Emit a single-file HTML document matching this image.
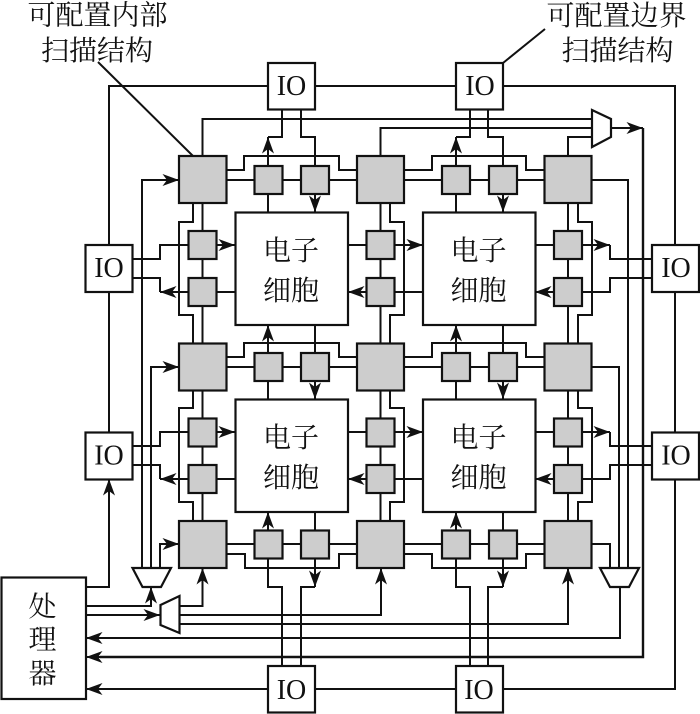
<!DOCTYPE html>
<html><head><meta charset="utf-8"><style>
html,body{margin:0;padding:0;background:#fff;width:700px;height:714px;overflow:hidden}
svg{display:block}
.c{font-family:"Liberation Serif","Noto Serif CJK SC",serif;font-size:28px;fill:#111;text-anchor:middle}
.io{font-family:"Liberation Serif",serif;font-size:28px;fill:#111;text-anchor:middle}
.w{fill:none;stroke:#111;stroke-width:2}
.g{fill:#cdcdcd;stroke:#111;stroke-width:2.2}
.b{fill:#fff;stroke:#111;stroke-width:2.2}
</style></head><body>
<svg width="700" height="714" viewBox="0 0 700 714" xmlns="http://www.w3.org/2000/svg">
<defs>
<marker id="a" markerUnits="userSpaceOnUse" markerWidth="20" markerHeight="14" refX="17" refY="7" orient="auto"><path d="M17,7 L0.500,1 L5,7 L0.500,13 Z" fill="#111"/></marker>
</defs>
<path class="w" d="M98,62 L193,156 M503,63 L545,29"/>
<!-- outer loop -->
<path class="w" d="M109,245 V86 H675 V689 H86"/>
<path class="w" d="M86,587 H109 V479" marker-end="url(#a)"/>
<path class="w" d="M109,292 V432" />
<path class="w" d="M315,689 H86" marker-end="url(#a)"/>
<!-- top scan chains -->
<path class="w" d="M202.500,156 V119 H592 M380.500,156 V128 H592 M568,156 V137 H592"/>
<path class="w" d="M611,128 H643" marker-end="url(#a)"/>
<path d="M643,128 V657 H100" fill="none" stroke="#111" stroke-width="2.4"/>
<path class="w" d="M100,657 H86" marker-end="url(#a)"/>
<path class="w" d="M620,587 V638 H100"/><path class="w" d="M100,638 H86" marker-end="url(#a)"/>
<path class="w" d="M592,180 H628 V568 M592,367 H619 V568 M592,544 H610 V568"/>
<!-- left scan -->
<path class="w" d="M142,568 V180 H179" marker-end="url(#a)"/>
<path class="w" d="M151,568 V367 H179" marker-end="url(#a)"/>
<path class="w" d="M160,568 V544 H179" marker-end="url(#a)"/>
<path class="w" d="M86,606 H151 V587" marker-end="url(#a)"/>
<path class="w" d="M86,615 H160" marker-end="url(#a)"/>
<path class="w" d="M180,606 H202.500 V568" marker-end="url(#a)"/>
<path class="w" d="M180,615 H381 V568" marker-end="url(#a)"/>
<path class="w" d="M180,624 H568 V568" marker-end="url(#a)"/>
<!-- horizontal rows -->
<path class="w" d="M227,180 H357 M404,180 H544 M227,367 H357 M404,367 H544 M227,544 H357 M404,544 H544"/>
<path class="w" d="M227,170 H244 V156 H339 V170 H357 M404,170 H432 V156 H526 V170 H544"/>
<path class="w" d="M227,357 H244 V343 H339 V357 H357 M404,357 H432 V343 H526 V357 H544"/>
<path class="w" d="M227,554 H245 V568 H339 V554 H357 M404,554 H432 V568 H526 V554 H544"/>
<!-- vertical cols -->
<path class="w" d="M202.500,203 V343 M202.500,390 V521 M380.500,203 V343 M380.500,390 V521 M568,203 V343 M568,390 V521"/>
<path class="w" d="M193,203 V222 H179 V315 H193 V343 M193,390 V408 H179 V502 H193 V521"/>
<path class="w" d="M390,203 V222 H404 V315 H390 V343 M390,390 V408 H404 V502 H390 V521"/>
<path class="w" d="M578,203 V222 H592 V315 H578 V343 M578,390 V408 H592 V502 H578 V521"/>
<!-- top IO verticals -->
<path class="w" d="M282,109 V137 H268"/><path class="w" d="M268,166 V137" marker-end="url(#a)"/>
<path class="w" d="M301,109 V137 H315 V166"/>
<path class="w" d="M470,109 V137 H456"/><path class="w" d="M456,166 V137" marker-end="url(#a)"/>
<path class="w" d="M488,109 V137 H503 V166"/>
<path class="w" d="M268,194 V212 M456,194 V212"/>
<path class="w" d="M315,194 V212" marker-end="url(#a)"/><path class="w" d="M503,194 V212" marker-end="url(#a)"/>
<!-- middle -->
<path class="w" d="M268,353 V325" marker-end="url(#a)"/><path class="w" d="M456,353 V325" marker-end="url(#a)"/>
<path class="w" d="M315,325 V353 M503,325 V353 M268,381 V399 M456,381 V399"/>
<path class="w" d="M315,381 V399" marker-end="url(#a)"/><path class="w" d="M503,381 V399" marker-end="url(#a)"/>
<!-- bottom -->
<path class="w" d="M268,530 V512" marker-end="url(#a)"/><path class="w" d="M456,530 V512" marker-end="url(#a)"/>
<path class="w" d="M315,512 V530 M503,512 V530"/>
<path class="w" d="M268,559 V587 H282 V666 M456,559 V587 H470 V666"/>
<path class="w" d="M301,666 V587 H315"/><path class="w" d="M488,666 V587 H503"/>
<path class="w" d="M315,559 V587" marker-end="url(#a)"/><path class="w" d="M503,559 V587" marker-end="url(#a)"/>
<!-- side wires row 1 -->
<path class="w" d="M133,259 H160 V245 H188"/><path class="w" d="M217,245 H235" marker-end="url(#a)"/>
<path class="w" d="M133,278 H160 V292"/><path class="w" d="M188,292 H160" marker-end="url(#a)"/><path class="w" d="M217,292 H235"/>
<path class="w" d="M348,245 H366 M423,292 H395"/><path class="w" d="M395,245 H423" marker-end="url(#a)"/><path class="w" d="M366,292 H348" marker-end="url(#a)"/>
<path class="w" d="M535,245 H554"/><path class="w" d="M582,245 H610" marker-end="url(#a)"/><path class="w" d="M610,245 V259 H652 M652,278 H610 V292 H582"/><path class="w" d="M554,292 H535" marker-end="url(#a)"/>
<!-- side wires row 2 -->
<path class="w" d="M133,446 H160 V432 H188"/><path class="w" d="M217,432 H235" marker-end="url(#a)"/>
<path class="w" d="M133,465 H160 V479"/><path class="w" d="M188,479 H160" marker-end="url(#a)"/><path class="w" d="M217,479 H235"/>
<path class="w" d="M348,432 H366 M423,479 H395"/><path class="w" d="M395,432 H423" marker-end="url(#a)"/><path class="w" d="M366,479 H348" marker-end="url(#a)"/>
<path class="w" d="M535,432 H554"/><path class="w" d="M582,432 H610" marker-end="url(#a)"/><path class="w" d="M610,432 V446 H652 M652,465 H610 V479 H582"/><path class="w" d="M554,479 H535" marker-end="url(#a)"/>
<!-- muxes -->
<path class="b" d="M592,110 L611,119 V137 L592,147 Z"/>
<path class="b" d="M600,568 H639 L629,587 H610 Z"/>
<path class="b" d="M132.500,568 H171 L161,587 H142.500 Z"/>
<path class="b" d="M160.500,605 L179.500,596 V633 L160.500,625 Z"/>
<!-- big gray -->
<g class="g">
<rect x="179" y="156" width="47.500" height="47"/><rect x="357" y="156" width="47" height="47"/><rect x="544.500" y="156" width="47" height="47"/>
<rect x="179" y="343.500" width="47.500" height="47"/><rect x="357" y="343.500" width="47" height="47"/><rect x="544.500" y="343.500" width="47" height="47"/>
<rect x="179" y="521" width="47.500" height="47"/><rect x="357" y="521" width="47" height="47"/><rect x="544.500" y="521" width="47" height="47"/>
<!-- small horizontal row boxes -->
<rect x="254.500" y="166" width="28" height="28"/><rect x="301" y="166" width="28" height="28"/><rect x="442" y="166" width="28" height="28"/><rect x="489" y="166" width="28" height="28"/>
<rect x="254.500" y="353" width="28" height="28"/><rect x="301" y="353" width="28" height="28"/><rect x="442" y="353" width="28" height="28"/><rect x="489" y="353" width="28" height="28"/>
<rect x="254.500" y="530.500" width="28" height="28"/><rect x="301" y="530.500" width="28" height="28"/><rect x="442" y="530.500" width="28" height="28"/><rect x="489" y="530.500" width="28" height="28"/>
<!-- small vertical boxes -->
<rect x="188.500" y="231" width="28" height="28"/><rect x="188.500" y="278" width="28" height="28"/><rect x="366.500" y="231" width="28" height="28"/><rect x="366.500" y="278" width="28" height="28"/><rect x="554" y="231" width="28" height="28"/><rect x="554" y="278" width="28" height="28"/>
<rect x="188.500" y="418.500" width="28" height="28"/><rect x="188.500" y="465" width="28" height="28"/><rect x="366.500" y="418.500" width="28" height="28"/><rect x="366.500" y="465" width="28" height="28"/><rect x="554" y="418.500" width="28" height="28"/><rect x="554" y="465" width="28" height="28"/>
</g>
<!-- cells -->
<g class="b">
<rect x="235.500" y="212.500" width="112.500" height="112.500"/><rect x="423" y="212.500" width="112.500" height="112.500"/>
<rect x="235.500" y="399.500" width="112.500" height="112.500"/><rect x="423" y="399.500" width="112.500" height="112.500"/>
<!-- IO -->
<rect x="268" y="63" width="47" height="46.500"/><rect x="456" y="63" width="47" height="46.500"/>
<rect x="268" y="666" width="47" height="46.500"/><rect x="456" y="666" width="47" height="46.500"/>
<rect x="85.500" y="245" width="47" height="47"/><rect x="85.500" y="432.500" width="47" height="47"/>
<rect x="652" y="245" width="47" height="47"/><rect x="652" y="432.500" width="47" height="47"/>
<rect x="1.500" y="577.500" width="84.500" height="121.500"/>
</g>
<!-- text -->
<g class="io">
<text x="291.500" y="95">IO</text><text x="480" y="95">IO</text>
<text x="291.500" y="699">IO</text><text x="479" y="699">IO</text>
<text x="109" y="277">IO</text><text x="109" y="464.500">IO</text>
<text x="676" y="277">IO</text><text x="676" y="464.500">IO</text>
</g>
<g class="c">
<text x="97.500" y="24.500">可配置内部</text><text x="97" y="60">扫描结构</text>
<text x="616.500" y="25">可配置边界</text><text x="617.500" y="60">扫描结构</text>
<text x="291" y="260">电子</text><text x="291" y="300">细胞</text>
<text x="478.500" y="260">电子</text><text x="478.500" y="300">细胞</text>
<text x="291" y="447">电子</text><text x="291" y="487">细胞</text>
<text x="478.500" y="447">电子</text><text x="478.500" y="487">细胞</text>
<text x="42.500" y="616">处</text><text x="42.500" y="649">理</text><text x="42.500" y="683">器</text>
</g>
</svg>
</body></html>
